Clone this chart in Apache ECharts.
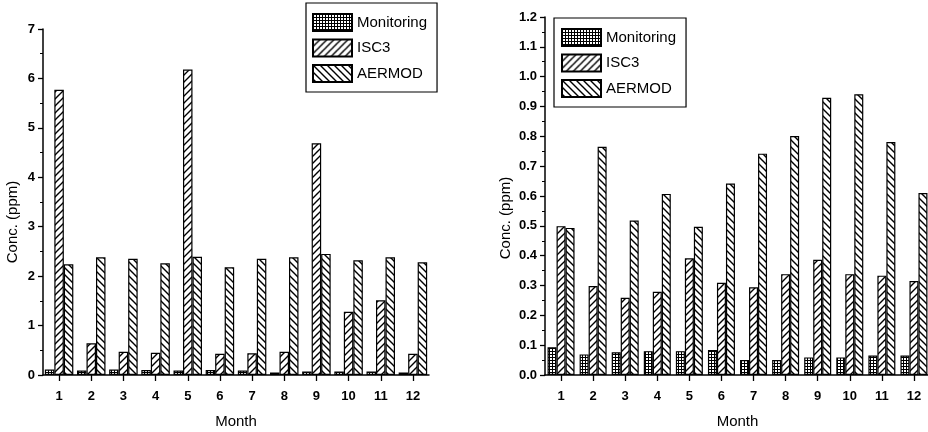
<!DOCTYPE html>
<html>
<head>
<meta charset="utf-8">
<script src="https://cdn.jsdelivr.net/npm/echarts@6/dist/echarts.min.js"></script>
<style>
html,body{margin:0;padding:0;background:#fff;}
#c{width:928px;height:432px;}
</style>
</head>
<body>
<div id="c"></div>
<script>
// ---- data ----
const months = ['1','2','3','4','5','6','7','8','9','10','11','12'];
const seriesNames = ['Monitoring','ISC3','AERMOD'];
const leftMonitoring = [0.11,0.09,0.11,0.10,0.09,0.10,0.09,0.05,0.07,0.07,0.07,0.05];
const leftISC3       = [5.77,0.64,0.47,0.45,6.18,0.43,0.44,0.47,4.69,1.28,1.51,0.43];
const leftAERMOD     = [2.24,2.38,2.35,2.26,2.39,2.18,2.35,2.38,2.45,2.32,2.38,2.28];
const rightMonitoring = [0.093,0.069,0.076,0.080,0.080,0.084,0.050,0.050,0.059,0.059,0.065,0.065];
const rightISC3       = [0.499,0.298,0.259,0.279,0.391,0.309,0.294,0.338,0.386,0.338,0.333,0.315];
const rightAERMOD     = [0.493,0.765,0.518,0.607,0.497,0.642,0.742,0.801,0.929,0.941,0.781,0.610];
const leftTicks  = [0,1,2,3,4,5,6,7];
const rightTicks = [0.0,0.1,0.2,0.3,0.4,0.5,0.6,0.7,0.8,0.9,1.0,1.1,1.2];
const xTitle = 'Month';
const yTitle = 'Conc. (ppm)';

// ---- patterns ----
function makePattern(kind){
  const s = kind === 'grid' ? 3 : 7;
  const cv = document.createElement('canvas');
  cv.width = s; cv.height = s;
  const ctx = cv.getContext('2d');
  ctx.fillStyle = '#fff'; ctx.fillRect(0,0,s,s);
  ctx.strokeStyle = '#000';
  if (kind === 'grid') {
    ctx.fillStyle = '#000';
    ctx.fillRect(0,0,s,1);
    ctx.fillRect(0,0,1,s);
  } else {
    ctx.lineWidth = 1.4;
    ctx.beginPath();
    if (kind === 'fwd') {
      ctx.moveTo(-1,s+1); ctx.lineTo(s+1,-1);
      ctx.moveTo(-1,1); ctx.lineTo(1,-1);
      ctx.moveTo(s-1,s+1); ctx.lineTo(s+1,s-1);
    } else {
      ctx.moveTo(-1,-1); ctx.lineTo(s+1,s+1);
      ctx.moveTo(-1,s-1); ctx.lineTo(1,s+1);
      ctx.moveTo(s-1,-1); ctx.lineTo(s+1,1);
    }
    ctx.stroke();
  }
  return {image: cv, repeat: 'repeat'};
}
const patterns = [makePattern('grid'), makePattern('fwd'), makePattern('back')];

const FONT = 'Arial, "Liberation Sans", sans-serif';

function xAxisCfg(gi){
  return {
    type:'category', gridIndex:gi, data:months, boundaryGap:true,
    axisLine:{show:true, lineStyle:{color:'#000', width:1.5}},
    axisTick:{show:true, alignWithLabel:true, length:6, inside:false, lineStyle:{color:'#000', width:1.3}},
    axisLabel:{color:'#000', fontSize:13, fontWeight:'bold', fontFamily:FONT, margin:15},
    name:xTitle, nameLocation:'middle', nameGap:47,
    nameTextStyle:{color:'#000', fontSize:15, fontFamily:FONT, verticalAlign:'middle'},
    splitLine:{show:false}
  };
}
function yAxisCfg(gi, ticks, step, digits){
  return {
    type:'value', gridIndex:gi, min:ticks[0], max:ticks[ticks.length-1], interval:step,
    axisLine:{show:true, lineStyle:{color:'#000', width:1.5}},
    axisTick:{show:true, length:5, inside:false, lineStyle:{color:'#000', width:1.3}},
    minorTick:{show:true, splitNumber:2, length:3, lineStyle:{color:'#000', width:1}},
    axisLabel:{color:'#000', fontSize:13, fontWeight:'bold', fontFamily:FONT, margin:8,
      formatter:function(v){return v.toFixed(digits);}},
    splitLine:{show:false}
  };
}

const leftData = [leftMonitoring, leftISC3, leftAERMOD];
const rightData = [rightMonitoring, rightISC3, rightAERMOD];
const series = [];
[leftData, rightData].forEach(function(set, gi){
  set.forEach(function(vals, k){
    series.push({
      type:'bar', name:seriesNames[k], xAxisIndex:gi, yAxisIndex:gi,
      data:vals, barWidth: gi===0 ? 9.5 : 9, barGap:'0%',
      itemStyle:{color:patterns[k], borderColor:'#000', borderWidth:1.2},
      emphasis:{disabled:true}, animation:false
    });
  });
});

function legendCfg(left, top, padL){
  return {
    orient:'vertical', left:left, top:top, itemWidth:39, itemHeight:17, itemGap:6.5,
    padding:[10,10,9,padL], borderColor:'#000', borderWidth:1.2, backgroundColor:'#fff',
    icon:'rect', data:seriesNames, selectedMode:false,
    textStyle:{color:'#000', fontSize:15, fontFamily:FONT}
  };
}

const chart = echarts.init(document.getElementById('c'), null, {renderer:'canvas'});
chart.setOption({
  backgroundColor:'#fff',
  animation:false,
  grid:[
    {left:43, top:29, width:386, height:346, containLabel:false, outerBoundsMode:'none'},
    {left:545, top:17, width:385, height:358, containLabel:false, outerBoundsMode:'none'}
  ],
  xAxis:[xAxisCfg(0), xAxisCfg(1)],
  yAxis:[yAxisCfg(0, leftTicks, 1, 0), yAxisCfg(1, rightTicks, 0.1, 1)],
  legend:[legendCfg(306, 3, 6), legendCfg(554, 18, 7)],
  graphic:[
    {type:'text', x:13, y:222, rotation:Math.PI/2,
      style:{text:yTitle, fill:'#000', font:'15px ' + FONT, textAlign:'center', textVerticalAlign:'middle'}},
    {type:'text', x:506, y:218, rotation:Math.PI/2,
      style:{text:yTitle, fill:'#000', font:'15px ' + FONT, textAlign:'center', textVerticalAlign:'middle'}}
  ],
  series:series
});
</script>
</body>
</html>
